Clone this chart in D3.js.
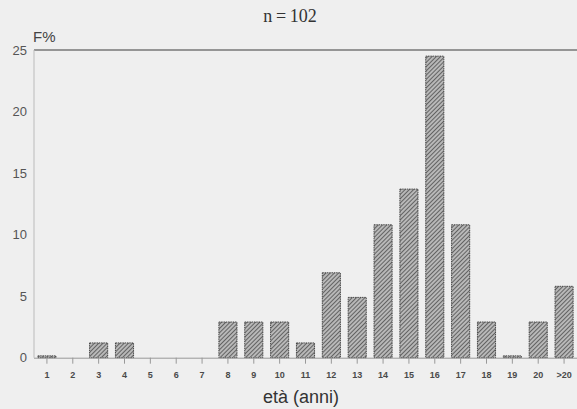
<!DOCTYPE html>
<html><head><meta charset="utf-8">
<script src="https://cdn.jsdelivr.net/npm/d3@7"></script>
<style>body{margin:0;background:#efefef;}svg{display:block;}</style>
</head><body>
<script>
const categories = ["1","2","3","4","5","6","7","8","9","10","11","12","13","14","15","16","17","18","19","20",">20"];
const values = [0.15,0,1.2,1.2,0,0,0,2.9,2.9,2.9,1.2,6.9,4.9,10.8,13.7,24.5,10.8,2.9,0.15,2.9,5.8];
const yTicks = [0,5,10,15,20,25];

const W=577,H=409;
const svg=d3.select("body").append("svg").attr("width",W).attr("height",H).style("background","#efefef");
const defs=svg.append("defs");
const pat=defs.append("pattern").attr("id","hatch").attr("patternUnits","userSpaceOnUse")
  .attr("width",3).attr("height",3).attr("patternTransform","rotate(45)");
pat.append("rect").attr("width",3).attr("height",3).attr("fill","#b8b8b8");
pat.append("line").attr("x1",0).attr("y1",0).attr("x2",0).attr("y2",3).attr("stroke","#3e3e3e").attr("stroke-width",1.4);

const x=d3.scaleBand().domain(categories).range([34,577]).paddingInner(0.3).paddingOuter(0.15);
const y=d3.scaleLinear().domain([0,25]).range([357.7,50]);

// top line
svg.append("line").attr("x1",34).attr("x2",577).attr("y1",y(25)).attr("y2",y(25)).attr("stroke","#777").attr("stroke-width",1.3);
// y axis line
svg.append("line").attr("x1",34).attr("x2",34).attr("y1",y(25)).attr("y2",y(0)).attr("stroke","#bbb").attr("stroke-width",1);

// bars
const barData = values.map((v,i)=>({c:categories[i],v})).filter(d=>d.v>0);
svg.selectAll("rect.bar").data(barData)
  .enter().append("rect").attr("class","bar")
  .attr("x",d=>x(d.c)).attr("width",x.bandwidth())
  .attr("y",d=>y(d.v)).attr("height",d=>y(0)-y(d.v))
  .attr("fill","url(#hatch)").attr("stroke","#3a3a3a").attr("stroke-width",0.9).attr("stroke-dasharray","1.5,0.8");

// x axis
const xa=svg.append("g").attr("transform",`translate(0,${y(0)})`)
  .call(d3.axisBottom(x).tickSize(6).tickPadding(8));
xa.select(".domain").attr("stroke","#999").attr("d","M34,0.5H577");
xa.selectAll(".tick line").attr("stroke","#999");
xa.selectAll(".tick text").attr("font-family","Liberation Sans, Arial, sans-serif").attr("font-size",9).attr("font-weight","bold").attr("fill","#4a4a4a");

// y labels
svg.selectAll("text.yl").data(yTicks).enter().append("text").attr("class","yl")
  .attr("x",27).attr("y",d=>y(d)).attr("dy","0.35em").attr("text-anchor","end")
  .attr("font-family","Liberation Sans, Arial, sans-serif").attr("font-size",13).attr("fill","#555").text(d=>d);

svg.append("text").attr("x",33).attr("y",42).attr("font-family","Liberation Sans, Arial, sans-serif").attr("font-size",15).attr("fill","#444").text("F%");
svg.append("text").attr("x",290).attr("y",22).attr("text-anchor","middle").attr("font-family","Liberation Serif, Times New Roman, serif").attr("font-size",18).attr("fill","#333").text("n\u2009=\u2009102");
svg.append("text").attr("x",301).attr("y",403).attr("text-anchor","middle").attr("font-family","Liberation Sans, Arial, sans-serif").attr("font-size",18).attr("fill","#333").text("età (anni)");
</script>
</body></html>
